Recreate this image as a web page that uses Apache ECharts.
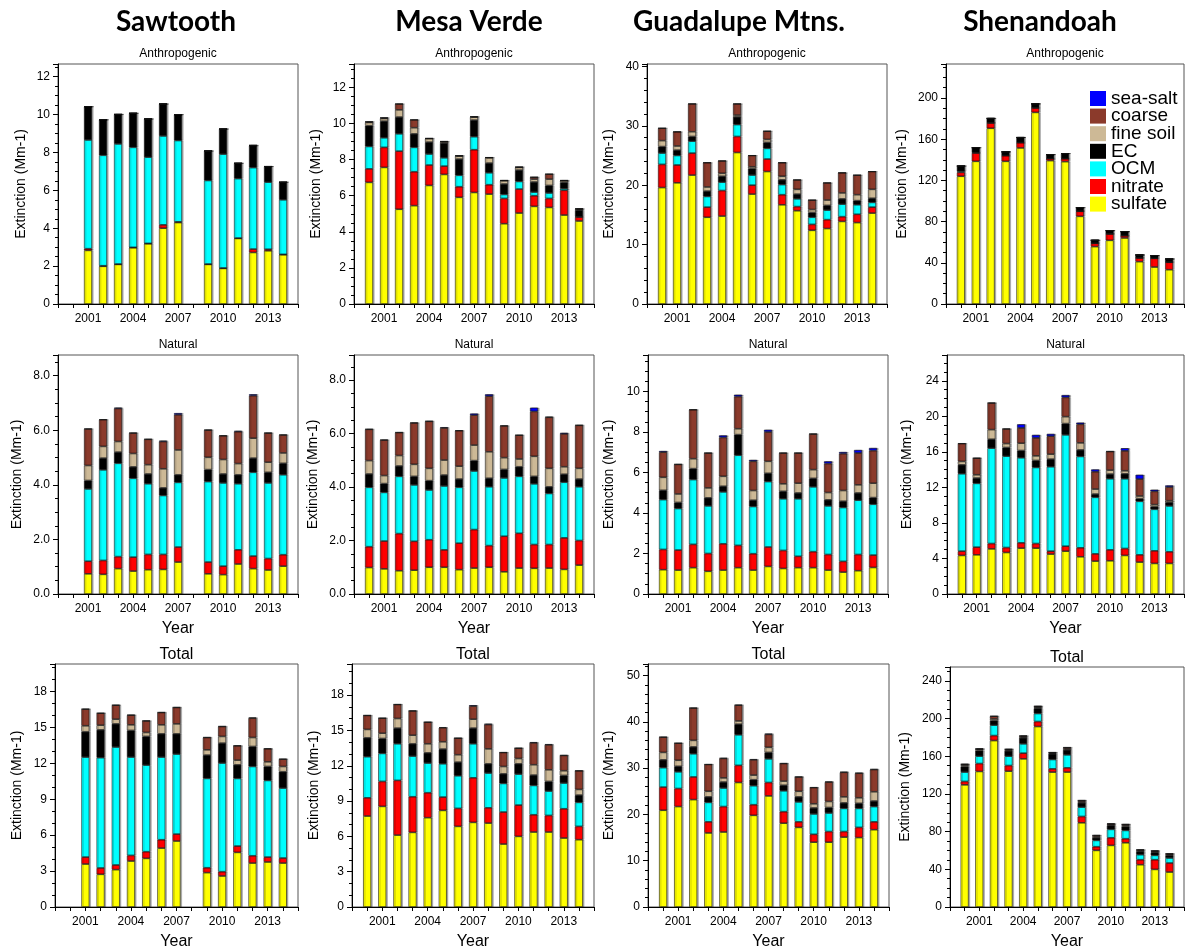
<!DOCTYPE html>
<html>
<head>
<meta charset="utf-8">
<script src="https://cdn.jsdelivr.net/npm/echarts@6/dist/echarts.min.js"></script>
<style>
html,body{margin:0;padding:0;background:#fff;}
#chart{width:1186px;height:951px;}
</style>
</head>
<body>
<div id="chart"></div>
<script>
// ---------- categories / ticks ----------
const years = [2000, 2001, 2002, 2003, 2004, 2005, 2006, 2007, 2008, 2009, 2010, 2011, 2012, 2013, 2014];
const axisYears = [1999, 2000, 2001, 2002, 2003, 2004, 2005, 2006, 2007, 2008, 2009, 2010, 2011, 2012, 2013, 2014, 2015];
const labelYears = [2001, 2004, 2007, 2010, 2013];
const sites = ['Sawtooth', 'Mesa Verde', 'Guadalupe Mtns.', 'Shenandoah'];
const panelTypes = ['Anthropogenic', 'Natural', 'Total'];
const components = ['sulfate', 'nitrate', 'OCM', 'EC', 'fine soil', 'coarse', 'sea-salt'];
const legendOrder = ['sea-salt', 'coarse', 'fine soil', 'EC', 'OCM', 'nitrate', 'sulfate'];

// ---------- Sawtooth ----------
const sawAnthSulfate = [null, 2.83, 1.99, 2.09, 2.97, 3.18, 4.00, 4.30, null, 2.09, 1.88, 3.46, 2.72, 2.81, 2.60];
const sawAnthNitrate = [null, 0.09, 0.03, 0.02, 0.02, 0.02, 0.18, 0.04, null, 0.02, 0.02, 0.02, 0.18, 0.08, 0.02];
const sawAnthOCM = [null, 5.74, 5.83, 6.34, 5.28, 4.55, 4.69, 4.29, null, 4.41, 6.01, 3.14, 4.30, 3.54, 2.88];
const sawAnthEC = [null, 1.76, 1.88, 1.56, 1.80, 2.02, 1.69, 1.37, null, 1.56, 1.33, 0.81, 1.16, 0.83, 0.93];
const sawAnthFineSoil = [null, 0, 0, 0, 0, 0, 0, 0, null, 0, 0, 0, 0, 0, 0];
const sawAnthCoarse = [null, 0, 0, 0, 0, 0, 0, 0, null, 0, 0, 0, 0.02, 0, 0];
const sawAnthSeaSalt = [null, 0, 0, 0, 0, 0, 0, 0, null, 0, 0, 0, 0, 0, 0];

const sawNatSulfate = [null, 0.74, 0.72, 0.93, 0.84, 0.89, 0.90, 1.17, null, 0.74, 0.71, 1.10, 0.93, 0.88, 1.02];
const sawNatNitrate = [null, 0.46, 0.51, 0.44, 0.51, 0.56, 0.55, 0.55, null, 0.43, 0.31, 0.52, 0.46, 0.42, 0.42];
const sawNatOCM = [null, 2.65, 3.32, 3.42, 2.89, 2.59, 2.16, 2.37, null, 2.95, 3.05, 2.42, 3.07, 2.77, 2.93];
const sawNatEC = [null, 0.31, 0.43, 0.41, 0.42, 0.36, 0.28, 0.28, null, 0.44, 0.33, 0.33, 0.52, 0.39, 0.42];
const sawNatFineSoil = [null, 0.55, 0.43, 0.39, 0.49, 0.34, 0.70, 0.91, null, 0.45, 0.53, 0.41, 0.73, 0.37, 0.38];
const sawNatCoarse = [null, 1.34, 0.98, 1.21, 0.75, 0.93, 1.00, 1.29, null, 1.00, 0.87, 1.17, 1.56, 1.07, 0.66];
const sawNatSeaSalt = [null, 0.01, 0.01, 0.03, 0.01, 0.01, 0.03, 0.06, null, 0.01, 0.01, 0.03, 0.05, 0.01, 0.01];

const sawTotSulfate = [null, 3.59, 2.73, 3.12, 3.84, 4.06, 4.92, 5.51, null, 2.87, 2.59, 4.56, 3.67, 3.76, 3.67];
const sawTotNitrate = [null, 0.58, 0.53, 0.39, 0.47, 0.56, 0.70, 0.58, null, 0.41, 0.36, 0.53, 0.61, 0.41, 0.42];
const sawTotOCM = [null, 8.35, 9.21, 9.85, 8.21, 7.23, 6.90, 6.68, null, 7.46, 9.07, 5.65, 7.46, 6.40, 5.84];
const sawTotEC = [null, 2.12, 2.33, 1.94, 2.23, 2.40, 1.95, 1.70, null, 1.95, 1.67, 1.14, 1.67, 1.17, 1.37];
const sawTotFineSoil = [null, 0.50, 0.39, 0.39, 0.47, 0.33, 0.75, 0.83, null, 0.44, 0.56, 0.39, 0.75, 0.39, 0.44];
const sawTotCoarse = [null, 1.39, 1.00, 1.17, 0.81, 0.97, 1.03, 1.37, null, 1.03, 0.83, 1.20, 1.62, 1.09, 0.61];
const sawTotSeaSalt = [null, 0.02, 0.02, 0.02, 0.02, 0.02, 0.02, 0.02, null, 0.02, 0.02, 0.02, 0.05, 0.02, 0.02];

// ---------- Mesa Verde ----------
const mesaAnthSulfate = [6.74, 7.57, 5.25, 5.45, 6.57, 7.18, 5.91, 6.18, 6.09, 4.45, 5.04, 5.41, 5.35, 4.93, 4.60];
const mesaAnthNitrate = [0.75, 1.11, 3.22, 1.88, 1.13, 0.46, 0.59, 2.37, 0.52, 1.40, 1.33, 0.59, 0.50, 1.37, 0.22];
const mesaAnthOCM = [1.24, 0.53, 0.96, 1.35, 0.61, 0.46, 0.63, 0.72, 0.66, 0.22, 0.42, 0.20, 0.30, 0.09, 0.02];
const mesaAnthEC = [1.15, 0.92, 0.93, 0.75, 0.66, 0.82, 0.90, 0.92, 0.54, 0.58, 0.63, 0.56, 0.42, 0.35, 0.36];
const mesaAnthFineSoil = [0.18, 0.15, 0.40, 0.34, 0.19, 0.07, 0.17, 0.17, 0.29, 0.18, 0.15, 0.16, 0.35, 0.09, 0.06];
const mesaAnthCoarse = [0.04, 0.04, 0.33, 0.44, 0.02, 0.02, 0.02, 0.02, 0.02, 0.02, 0.02, 0.11, 0.28, 0.02, 0.02];
const mesaAnthSeaSalt = [0, 0, 0, 0, 0, 0, 0, 0, 0, 0, 0, 0, 0, 0, 0];

const mesaNatSulfate = [0.99, 0.94, 0.87, 0.89, 1.00, 1.00, 0.91, 0.97, 1.00, 0.83, 0.97, 0.96, 0.97, 0.92, 1.08];
const mesaNatNitrate = [0.78, 1.04, 1.39, 1.08, 1.03, 0.65, 0.99, 1.44, 0.81, 1.33, 1.30, 0.89, 0.88, 1.18, 0.92];
const mesaNatOCM = [2.22, 1.82, 2.14, 2.11, 1.86, 2.39, 2.09, 2.19, 2.20, 2.18, 2.13, 2.27, 1.91, 2.08, 2.01];
const mesaNatEC = [0.50, 0.33, 0.39, 0.32, 0.35, 0.41, 0.31, 0.39, 0.32, 0.32, 0.36, 0.28, 0.25, 0.30, 0.29];
const mesaNatFineSoil = [0.50, 0.30, 0.39, 0.45, 0.46, 0.56, 0.48, 0.58, 0.99, 0.44, 0.29, 0.75, 0.69, 0.28, 0.40];
const mesaNatCoarse = [1.17, 1.33, 0.86, 1.55, 1.76, 1.20, 1.33, 1.12, 2.08, 1.19, 0.89, 1.68, 1.91, 1.23, 1.61];
const mesaNatSeaSalt = [0.01, 0.01, 0.01, 0.01, 0.01, 0.03, 0.01, 0.06, 0.07, 0.01, 0.01, 0.14, 0.02, 0.04, 0.01];

const mesaTotSulfate = [7.73, 8.55, 6.11, 6.34, 7.59, 8.21, 6.85, 7.19, 7.13, 5.35, 6.00, 6.37, 6.37, 5.86, 5.72];
const mesaTotNitrate = [1.55, 2.12, 4.65, 3.03, 2.12, 1.13, 1.53, 3.79, 1.30, 2.72, 2.66, 1.47, 1.41, 2.49, 1.13];
const mesaTotOCM = [3.49, 2.38, 3.11, 3.45, 2.52, 2.83, 2.77, 2.89, 2.95, 2.43, 2.63, 2.49, 2.07, 2.18, 2.04];
const mesaTotEC = [1.61, 1.27, 1.33, 1.05, 0.87, 1.25, 1.16, 1.33, 0.79, 0.82, 0.88, 0.88, 0.82, 0.65, 0.62];
const mesaTotFineSoil = [0.71, 0.45, 0.82, 0.73, 0.77, 0.62, 0.63, 0.76, 1.27, 0.62, 0.45, 0.88, 0.99, 0.40, 0.48];
const mesaTotCoarse = [1.19, 1.28, 1.19, 2.07, 1.84, 1.19, 1.41, 1.11, 2.07, 1.19, 0.88, 1.86, 2.12, 1.30, 1.59];
const mesaTotSeaSalt = [0.01, 0.01, 0.01, 0.01, 0.01, 0.05, 0.01, 0.08, 0.06, 0.01, 0.01, 0.06, 0.06, 0.02, 0.01];

// ---------- Guadalupe Mtns. ----------
const guadAnthSulfate = [19.6, 20.4, 21.7, 14.6, 14.8, 25.5, 18.5, 22.3, 16.7, 15.7, 12.4, 12.7, 13.9, 13.7, 15.3];
const guadAnthNitrate = [3.9, 3.0, 3.7, 1.7, 4.3, 2.7, 1.5, 2.1, 1.7, 0.7, 1.0, 1.5, 0.8, 1.4, 1.0];
const guadAnthOCM = [1.9, 1.6, 2.0, 1.8, 1.4, 2.0, 1.7, 1.8, 1.7, 1.3, 1.2, 1.6, 2.1, 1.6, 0.8];
const guadAnthEC = [1.1, 0.9, 0.8, 0.9, 1.0, 1.3, 1.1, 1.0, 0.8, 0.8, 0.8, 0.8, 0.9, 0.7, 0.7];
const guadAnthFineSoil = [1.0, 0.7, 0.8, 0.7, 0.5, 0.3, 0.3, 0.5, 0.6, 0.8, 0.5, 0.9, 1.0, 1.0, 1.5];
const guadAnthCoarse = [2.1, 2.4, 4.7, 4.1, 2.1, 1.9, 1.9, 1.4, 2.3, 1.6, 1.6, 2.9, 3.4, 3.3, 3.0];
const guadAnthSeaSalt = [0, 0, 0, 0, 0, 0, 0, 0, 0, 0, 0, 0, 0, 0, 0];

const guadNatSulfate = [1.20, 1.18, 1.30, 1.12, 1.18, 1.30, 1.18, 1.36, 1.26, 1.30, 1.30, 1.18, 1.08, 1.15, 1.31];
const guadNatNitrate = [1.00, 0.99, 1.15, 0.88, 1.30, 1.10, 0.81, 0.96, 0.89, 0.56, 0.79, 0.77, 0.53, 0.80, 0.61];
const guadNatOCM = [2.46, 2.05, 3.20, 2.35, 2.56, 4.45, 2.33, 3.23, 2.55, 2.84, 3.20, 2.40, 2.66, 2.68, 2.51];
const guadNatEC = [0.46, 0.30, 0.54, 0.40, 0.28, 1.02, 0.31, 0.41, 0.37, 0.29, 0.42, 0.30, 0.31, 0.36, 0.33];
const guadNatFineSoil = [0.64, 0.42, 0.49, 0.49, 0.49, 0.29, 0.48, 0.59, 0.37, 0.48, 0.43, 0.36, 0.53, 0.40, 0.71];
const guadNatCoarse = [1.24, 1.46, 2.42, 1.72, 1.92, 1.59, 1.44, 1.45, 1.52, 1.49, 1.76, 1.43, 1.82, 1.57, 1.61];
const guadNatSeaSalt = [0.06, 0.01, 0.01, 0.01, 0.10, 0.09, 0.07, 0.11, 0.01, 0.01, 0.01, 0.11, 0.08, 0.15, 0.13];

const guadTotSulfate = [20.9, 21.7, 23.2, 16.0, 16.2, 26.9, 19.8, 24.0, 18.1, 17.2, 14.0, 14.0, 15.1, 15.0, 16.7];
const guadTotNitrate = [5.0, 3.9, 4.9, 2.4, 5.5, 3.7, 2.3, 2.9, 2.5, 1.2, 1.7, 2.3, 1.2, 2.2, 1.7];
const guadTotOCM = [4.2, 3.6, 5.0, 4.2, 4.0, 6.6, 4.1, 5.1, 4.5, 4.3, 4.4, 4.0, 5.0, 4.1, 3.3];
const guadTotEC = [1.7, 1.2, 1.5, 1.2, 1.3, 2.3, 1.3, 1.4, 1.2, 1.1, 1.3, 1.2, 1.2, 1.1, 1.2];
const guadTotFineSoil = [1.6, 1.3, 1.4, 1.2, 0.9, 0.7, 1.0, 1.1, 0.9, 1.2, 0.9, 1.3, 1.3, 1.2, 2.0];
const guadTotCoarse = [3.3, 3.7, 7.0, 5.8, 4.2, 3.4, 3.3, 2.8, 3.8, 3.1, 3.5, 4.2, 5.3, 5.3, 4.8];
const guadTotSeaSalt = [0.05, 0.02, 0.02, 0.02, 0.1, 0.1, 0.15, 0.15, 0.05, 0.05, 0.05, 0.1, 0.1, 0.1, 0.1];

// ---------- Shenandoah ----------
const shenAnthSulfate = [124, 138.5, 170.6, 138.5, 151.5, 186, 139.2, 138.2, 85.1, 55.7, 61.8, 64.1, 41.1, 35.9, 33.3];
const shenAnthNitrate = [3.8, 8.1, 5.1, 5.5, 5.1, 4.3, 1.9, 2.9, 4.9, 3.2, 6.2, 2.2, 3.6, 8.4, 7.2];
const shenAnthOCM = [1.0, 0.3, 0.2, 0.2, 0.2, 0.2, 0.1, 0.1, 0.1, 0.1, 0.1, 0.1, 0.1, 0.1, 0.1];
const shenAnthEC = [5.2, 4.9, 4.3, 3.6, 4.9, 3.9, 3.9, 4.9, 3.5, 2.9, 3.2, 3.9, 2.9, 2.6, 3.2];
const shenAnthFineSoil = [0, 0, 0, 0, 0, 0, 0, 0, 0, 0, 0, 0, 0, 0, 0];
const shenAnthCoarse = [0, 0, 0, 0, 0, 0, 0, 0, 0, 0, 0, 0, 0, 0, 0];
const shenAnthSeaSalt = [0, 0, 0, 0, 0, 0, 0, 0, 0, 0, 0, 0, 0, 0, 0];

const shenNatSulfate = [4.34, 4.41, 5.08, 4.67, 5.16, 5.16, 4.49, 4.82, 4.19, 3.70, 3.74, 4.34, 3.59, 3.44, 3.44];
const shenNatNitrate = [0.48, 0.86, 0.60, 0.56, 0.60, 0.52, 0.33, 0.56, 1.01, 0.82, 1.23, 0.78, 0.82, 1.42, 1.31];
const shenNatOCM = [8.71, 7.18, 10.73, 10.28, 9.57, 8.56, 9.50, 12.53, 10.28, 6.36, 8.00, 7.85, 6.02, 4.67, 5.16];
const shenNatEC = [1.01, 0.60, 1.01, 0.98, 0.82, 0.79, 0.86, 1.27, 0.74, 0.37, 0.53, 0.56, 0.30, 0.30, 0.41];
const shenNatFineSoil = [0.38, 0.37, 1.08, 0.44, 0.82, 0.52, 0.56, 0.78, 0.79, 0.56, 0.44, 0.34, 0.30, 0.23, 0.18];
const shenNatCoarse = [2.01, 1.87, 3.00, 1.65, 1.72, 2.02, 2.02, 2.17, 2.09, 1.95, 2.10, 2.24, 1.90, 1.49, 1.54];
const shenNatSeaSalt = [0.02, 0.02, 0.02, 0.02, 0.41, 0.34, 0.26, 0.26, 0.19, 0.26, 0.02, 0.30, 0.49, 0.19, 0.18];

const shenTotSulfate = [129.7, 143.9, 176.7, 144.2, 157.3, 191.6, 143.2, 143.2, 89.4, 60.1, 65.4, 68.2, 44.9, 39.9, 37.1];
const shenTotNitrate = [3.6, 8.4, 5.3, 6.0, 6.0, 5.3, 3.5, 4.6, 6.7, 3.9, 8.1, 4.3, 5.3, 10.3, 9.6];
const shenTotOCM = [9.9, 7.8, 11.0, 9.9, 9.9, 8.5, 9.9, 13.7, 9.9, 6.7, 8.9, 8.8, 5.3, 4.6, 5.3];
const shenTotEC = [6.0, 6.0, 4.9, 5.7, 6.4, 5.6, 6.0, 5.3, 4.6, 2.8, 4.2, 4.2, 3.5, 3.2, 2.8];
const shenTotFineSoil = [1.4, 1.4, 1.8, 1.0, 1.0, 1.1, 0.7, 1.1, 1.1, 1.1, 0.7, 1.1, 0.7, 0.7, 0.7];
const shenTotCoarse = [1.0, 0.4, 2.8, 0.7, 1.1, 1.0, 0.7, 1.4, 1.4, 1.4, 1.1, 1.1, 1.1, 1.0, 1.1];
const shenTotSeaSalt = [0.2, 0.2, 0.2, 0.2, 0.2, 0.2, 0.2, 0.2, 0.2, 0.2, 0.2, 0.2, 0.2, 0.2, 0.2];

// ---------- styles / layout ----------
const compColors = {
  'sulfate': '#ffff00', 'nitrate': '#ff0000', 'OCM': '#00ffff', 'EC': '#000000',
  'fine soil': '#cdb996', 'coarse': '#8b3a2b', 'sea-salt': '#0000ff'
};

const panels = [
  { row: 0, col: 0, layers: [sawAnthSulfate, sawAnthNitrate, sawAnthOCM, sawAnthEC, sawAnthFineSoil, sawAnthCoarse, sawAnthSeaSalt],
    left: 58, top: 64, width: 240, height: 240, max: 12.67, interval: 2, dec: 0, minor: 4, nameGap: 30 },
  { row: 0, col: 1, layers: [mesaAnthSulfate, mesaAnthNitrate, mesaAnthOCM, mesaAnthEC, mesaAnthFineSoil, mesaAnthCoarse, mesaAnthSeaSalt],
    left: 354, top: 64, width: 240, height: 240, max: 13.3, interval: 2, dec: 0, minor: 4, nameGap: 31 },
  { row: 0, col: 2, layers: [guadAnthSulfate, guadAnthNitrate, guadAnthOCM, guadAnthEC, guadAnthFineSoil, guadAnthCoarse, guadAnthSeaSalt],
    left: 647, top: 64, width: 240, height: 240, max: 40.4, interval: 10, dec: 0, minor: 5, nameGap: 31 },
  { row: 0, col: 3, layers: [shenAnthSulfate, shenAnthNitrate, shenAnthOCM, shenAnthEC, shenAnthFineSoil, shenAnthCoarse, shenAnthSeaSalt],
    left: 946, top: 64, width: 238, height: 240, max: 233, interval: 40, dec: 0, minor: 4, nameGap: 37 },
  { row: 1, col: 0, layers: [sawNatSulfate, sawNatNitrate, sawNatOCM, sawNatEC, sawNatFineSoil, sawNatCoarse, sawNatSeaSalt],
    left: 58, top: 355, width: 240, height: 239, max: 8.76, interval: 2, dec: 1, minor: 4, nameGap: 34 },
  { row: 1, col: 1, layers: [mesaNatSulfate, mesaNatNitrate, mesaNatOCM, mesaNatEC, mesaNatFineSoil, mesaNatCoarse, mesaNatSeaSalt],
    left: 354, top: 355, width: 240, height: 239, max: 8.94, interval: 2, dec: 1, minor: 4, nameGap: 34 },
  { row: 1, col: 2, layers: [guadNatSulfate, guadNatNitrate, guadNatOCM, guadNatEC, guadNatFineSoil, guadNatCoarse, guadNatSeaSalt],
    left: 648, top: 355, width: 240, height: 239, max: 11.8, interval: 2, dec: 0, minor: 4, nameGap: 32 },
  { row: 1, col: 3, layers: [shenNatSulfate, shenNatNitrate, shenNatOCM, shenNatEC, shenNatFineSoil, shenNatCoarse, shenNatSeaSalt],
    left: 947, top: 355, width: 237, height: 239, max: 26.9, interval: 4, dec: 0, minor: 4, nameGap: 33 },
  { row: 2, col: 0, layers: [sawTotSulfate, sawTotNitrate, sawTotOCM, sawTotEC, sawTotFineSoil, sawTotCoarse, sawTotSeaSalt],
    left: 55, top: 664, width: 243, height: 243, max: 20.3, interval: 3, dec: 0, minor: 3, nameGap: 31 },
  { row: 2, col: 1, layers: [mesaTotSulfate, mesaTotNitrate, mesaTotOCM, mesaTotEC, mesaTotFineSoil, mesaTotCoarse, mesaTotSeaSalt],
    left: 352, top: 664, width: 242, height: 243, max: 20.65, interval: 3, dec: 0, minor: 3, nameGap: 31 },
  { row: 2, col: 2, layers: [guadTotSulfate, guadTotNitrate, guadTotOCM, guadTotEC, guadTotFineSoil, guadTotCoarse, guadTotSeaSalt],
    left: 648, top: 664, width: 241, height: 243, max: 52.5, interval: 10, dec: 0, minor: 5, nameGap: 32 },
  { row: 2, col: 3, layers: [shenTotSulfate, shenTotNitrate, shenTotOCM, shenTotEC, shenTotFineSoil, shenTotCoarse, shenTotSeaSalt],
    left: 950, top: 667, width: 234, height: 241, max: 254.8, interval: 40, dec: 0, minor: 4, nameGap: 38 }
];

const FONT = '"Liberation Sans", Arial, sans-serif';

const grids = [], xAxes = [], yAxes = [], series = [], graphics = [];

panels.forEach((p, i) => {
  grids.push({ left: p.left, top: p.top, width: p.width, height: p.height, show: true,
    borderColor: '#555', borderWidth: 1, backgroundColor: 'transparent', containLabel: false });
  xAxes.push({
    type: 'category', gridIndex: i, data: axisYears.map(String), boundaryGap: false,
    axisLine: { show: true, onZero: false, lineStyle: { color: '#000', width: 1 } },
    axisTick: { show: true, length: 4, interval: 0, lineStyle: { color: '#000' } },
    axisLabel: { color: '#000', fontSize: 12, fontFamily: FONT, margin: 9,
      interval: (idx, val) => labelYears.indexOf(Number(val)) >= 0 },
    splitLine: { show: false },
    name: p.row > 0 ? 'Year' : '', nameLocation: 'middle', nameGap: 27,
    nameTextStyle: { color: '#000', fontSize: 16, fontFamily: FONT }
  });
  yAxes.push({
    type: 'value', gridIndex: i, min: 0, max: p.max, interval: p.interval,
    axisLine: { show: true, lineStyle: { color: '#000', width: 1 } },
    axisTick: { show: true, length: 5, lineStyle: { color: '#000' } },
    minorTick: { show: true, splitNumber: p.minor, length: 3, lineStyle: { color: '#000' } },
    axisLabel: { color: '#000', fontSize: 12, fontFamily: FONT, margin: 8, showMaxLabel: false,
      formatter: v => v.toFixed(p.dec) },
    splitLine: { show: false },
    name: 'Extinction (Mm-1)', nameLocation: 'middle', nameGap: p.nameGap,
    nameTextStyle: { color: '#000', fontSize: 14, fontFamily: FONT }
  });
  p.layers.forEach((arr, k) => {
    const comp = components[k];
    series.push({
      type: 'bar', name: comp, xAxisIndex: i, yAxisIndex: i, stack: 'stack' + i,
      barWidth: 8,
      data: axisYears.map(y => { const j = years.indexOf(y); return j < 0 ? null : arr[j]; }),
      itemStyle: { color: compColors[comp], borderColor: '#111', borderWidth: 0.6,
        shadowColor: 'rgba(0,0,0,0.3)', shadowOffsetX: 1.5, shadowBlur: 0 },
      emphasis: { disabled: true },
      animation: false
    });
  });
  const cx = p.left + p.width / 2;
  const isTot = p.row === 2;
  graphics.push({ type: 'text', x: cx, y: p.top - (isTot ? 9 : 10),
    style: { text: panelTypes[p.row], align: 'center', verticalAlign: 'middle',
      textAlign: 'center', textVerticalAlign: 'middle',
      fontSize: isTot ? 16 : 12, fontFamily: FONT, fill: '#000' } });
});

const siteCenters = [176, 469, 739, 1040];
sites.forEach((s, c) => {
  graphics.push({ type: 'text', x: siteCenters[c], y: 22,
    style: { text: s, align: 'center', verticalAlign: 'middle',
      textAlign: 'center', textVerticalAlign: 'middle',
      fontSize: 28, fontWeight: 'bold', fontFamily: 'Lato, "Open Sans", sans-serif', fill: '#000' } });
});

const chart = echarts.init(document.getElementById('chart'), null, { renderer: 'canvas' });
chart.setOption({
  animation: false,
  backgroundColor: '#fff',
  grid: grids,
  xAxis: xAxes,
  yAxis: yAxes,
  series: series,
  graphic: graphics,
  legend: {
    data: legendOrder, orient: 'vertical', left: 1090, top: 89, padding: 0,
    itemWidth: 16, itemHeight: 15, itemGap: -1.4, icon: 'rect',
    selectedMode: false,
    itemStyle: { borderWidth: 0, shadowColor: 'transparent', shadowOffsetX: 0 },
    textStyle: { fontSize: 19, fontFamily: FONT, color: '#000' }
  }
});
</script>
</body>
</html>
